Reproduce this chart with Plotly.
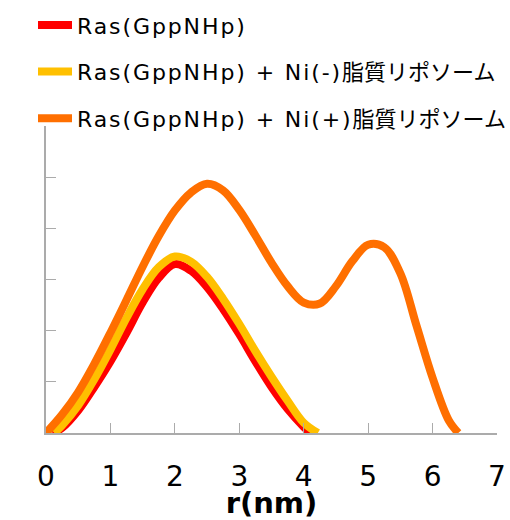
import plotly.graph_objects as go

# ---- data ----
latin_parts = ["Ras(GppNHp)", "Ras(GppNHp) + Ni(-)", "Ras(GppNHp) + Ni(+)"]
jp_parts = ["", "脂質リポソーム", "脂質リポソーム"]
colors = ["#FF0000", "#FFC000", "#FF6F00"]

red_x = [0.10, 0.25, 0.50, 0.75, 1.00, 1.25, 1.50, 1.75, 2.00, 2.25, 2.50, 2.75, 3.00, 3.25, 3.50, 3.75, 4.00, 4.10]
red_y = [0.00, 0.10, 0.44, 0.90, 1.40, 1.96, 2.55, 3.03, 3.30, 3.17, 2.85, 2.42, 1.93, 1.40, 0.90, 0.47, 0.12, 0.00]

yel_x = [0.13, 0.25, 0.50, 0.75, 1.00, 1.25, 1.50, 1.75, 2.00, 2.25, 2.50, 2.75, 3.00, 3.25, 3.50, 3.75, 4.00, 4.22]
yel_y = [0.00, 0.15, 0.54, 1.05, 1.63, 2.25, 2.81, 3.24, 3.45, 3.35, 3.05, 2.62, 2.13, 1.60, 1.10, 0.63, 0.20, 0.00]

ora_x = [0.00, 0.25, 0.50, 0.75, 1.00, 1.25, 1.50, 1.75, 2.00, 2.25, 2.50, 2.75, 3.00, 3.25, 3.50, 3.75, 4.00, 4.25, 4.50, 4.75, 5.00, 5.25, 5.50, 5.75, 6.00, 6.25, 6.40]
ora_y = [0.00, 0.36, 0.80, 1.35, 1.96, 2.60, 3.25, 3.85, 4.35, 4.70, 4.87, 4.74, 4.36, 3.86, 3.33, 2.87, 2.55, 2.53, 2.87, 3.35, 3.68, 3.63, 3.12, 2.10, 1.08, 0.25, 0.00]

x_ticks = [0, 1, 2, 3, 4, 5, 6, 7]

series = [(red_x, red_y), (yel_x, yel_y), (ora_x, ora_y)]

W, H = 510, 520
PLOT_L, PLOT_R = 46, 497  # pixel edges of the axes box

fig = go.Figure()
for i, ((xs, ys), la, jp, c) in enumerate(zip(series, latin_parts, jp_parts, colors)):
    fig.add_trace(go.Scatter(
        x=xs, y=ys, mode="lines",
        name='<span style="letter-spacing:1.9px">' + la + '</span>' + jp,
        line=dict(color=c, width=8, shape="spline", smoothing=1.0),
        legendgroup=f"g{i}",
    ))

axis_col = "#ABABAB"
fig.update_layout(
    width=W, height=H,
    margin=dict(l=0, r=0, t=126, b=87, autoexpand=False),
    paper_bgcolor="white", plot_bgcolor="white",
    font=dict(family="DejaVu Sans", color="black"),
    showlegend=True,
    legend=dict(
        xref="container", yref="container",
        x=33 / W, y=0.992, xanchor="left", yanchor="top",
        font=dict(size=22, family="DejaVu Sans, Noto Sans CJK JP", color="black"),
        bgcolor="rgba(0,0,0,0)", tracegroupgap=15, itemwidth=34,
    ),
    xaxis=dict(
        domain=[PLOT_L / W, PLOT_R / W],
        range=[0, 7], tickvals=x_ticks, ticktext=[str(t) for t in x_ticks],
        ticks="inside", ticklen=10, tickcolor=axis_col, tickwidth=1,
        showline=True, linecolor=axis_col, linewidth=1.5,
        showgrid=False, zeroline=False,
        tickfont=dict(size=28, family="DejaVu Sans", color="black"),
        ticklabelstandoff=18,
        title=dict(text="<b>r(nm)</b>", font=dict(size=29, family="DejaVu Sans", color="black"), standoff=5),
    ),
    yaxis=dict(
        range=[0, 6], dtick=1, tick0=0,
        ticks="inside", ticklen=10, tickcolor=axis_col, tickwidth=1,
        showline=True, linecolor=axis_col, linewidth=1.5,
        showgrid=False, zeroline=False, showticklabels=False,
        title=dict(text="<b>p(r)</b>", font=dict(size=28, family="DejaVu Sans", color="black"), standoff=0),
    ),
)

fig.write_html("out.html", config={"displayModeBar": False},
               post_script="document.body.style.margin='0px';")
